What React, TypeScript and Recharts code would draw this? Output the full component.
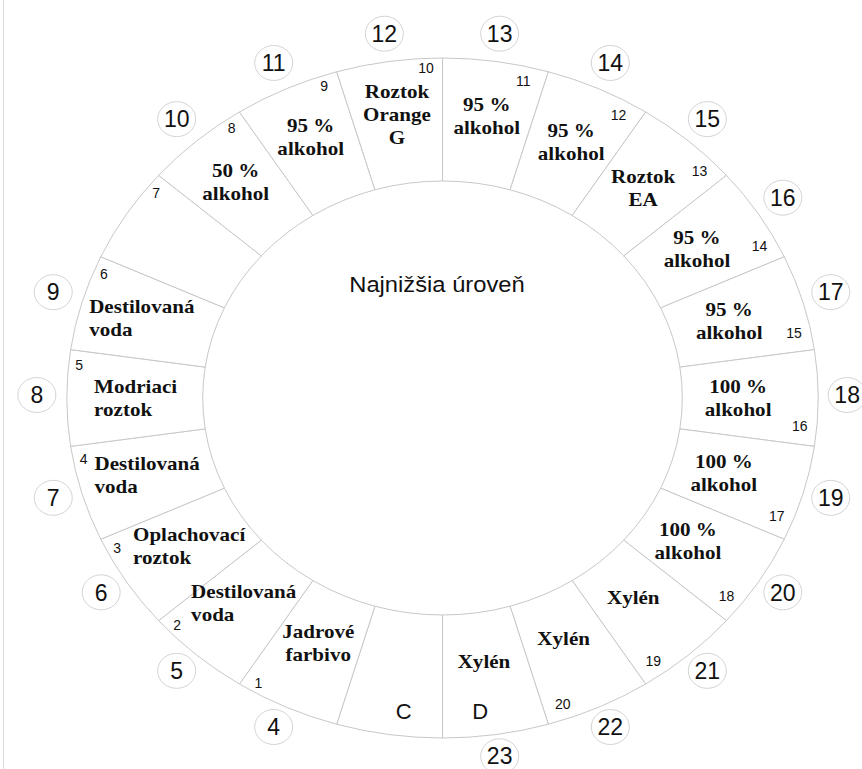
import { Pie, PieChart } from "recharts";

const W = 862;
const H = 769;
const CX = 437;
const CY = 393;
const INNER = 217;
const OUTER = 340;
// the ring in the picture is a little wider than tall
const SX = 1.105;
const RAD = Math.PI / 180;

// 22 equal slots, clockwise from 12 o'clock
const slotSize = [1, 1, 1, 1, 1, 1, 1, 1, 1, 1, 1, 1, 1, 1, 1, 1, 1, 1, 1, 1, 1, 1];
const stepNo = ["11", "12", "13", "14", "15", "16", "17", "18", "19", "20", "", "", "1", "2", "3", "4", "5", "6", "7", "8", "9", "10"];
const reagent = [
  ["95 %", "alkohol"],
  ["95 %", "alkohol"],
  ["Roztok", "EA"],
  ["95 %", "alkohol"],
  ["95 %", "alkohol"],
  ["100 %", "alkohol"],
  ["100 %", "alkohol"],
  ["100 %", "alkohol"],
  ["Xylén"],
  ["Xylén"],
  ["Xylén"],
  [],
  ["Jadrové", "farbivo"],
  ["Destilovaná", "voda"],
  ["Oplachovací", "roztok"],
  ["Destilovaná", "voda"],
  ["Modriaci", "roztok"],
  ["Destilovaná", "voda"],
  [],
  ["50 %", "alkohol"],
  ["95 %", "alkohol"],
  ["Roztok", "Orange", "G"],
];
const station = ["", "", "", "", "", "", "", "", "", "", "D", "C", "", "", "", "", "", "", "", "", "", ""];
const position = ["13", "14", "15", "16", "17", "18", "19", "20", "21", "22", "23", "", "4", "5", "6", "7", "8", "9", "", "10", "11", "12"];

const slots = slotSize.map((v, i) => ({
  value: v,
  step: stepNo[i],
  lines: reagent[i],
  station: station[i],
  pos: position[i],
}));

const pt = (cx: number, cy: number, r: number, deg: number, sx = SX) => ({
  x: cx + Math.cos(-deg * RAD) * r * sx,
  y: cy + Math.sin(-deg * RAD) * r,
});

const serif = "'Liberation Serif', 'Times New Roman', serif";
const sans = "'Liberation Sans', Arial, sans-serif";

function renderSlot(props: any) {
  const { cx, cy, midAngle, endAngle, index } = props;
  const s = slots[index];
  const fs = 18;
  const lh = 23;
  const k = 1.17;

  const c = Math.cos(midAngle * RAD);
  const sn = Math.sin(midAngle * RAD);
  // labels sit a bit higher at the top and a bit further in on the right
  const rLabel = 277 + 9 * sn - 9 * Math.max(c, 0) - 2 * Math.min(c, 0);
  const mid = pt(cx, cy, rLabel, midAngle);
  const leftAligned = c < -0.6 && sn < 0.5;
  const maxLen = Math.max(0, ...s.lines.map((l) => l.length));
  const x0 = leftAligned ? (-maxLen * 0.47 * fs) / 2 : 0;
  const y0 = -((s.lines.length - 1) * lh) / 2 + fs * 0.34;

  const num = c < 0 ? pt(cx, cy, 330, endAngle + 2.5) : pt(cx, cy, 325, endAngle + 3.3);
  const st = pt(cx, cy, 316, midAngle, 0.85);
  const badge = pt(cx, cy - 3, 365, midAngle, 1.11);

  return (
    <g key={`slot-${index}`}>
      {s.lines.length > 0 && (
        <g transform={`translate(${mid.x},${mid.y}) scale(${k},1)`}>
          {s.lines.map((line, j) => (
            <text
              key={j}
              x={x0}
              y={y0 + j * lh}
              textAnchor={leftAligned ? "start" : "middle"}
              fontFamily={serif}
              fontWeight="bold"
              fontSize={fs}
              fill="#111"
            >
              {line}
            </text>
          ))}
        </g>
      )}
      {s.step && (
        <text x={num.x} y={num.y + 5} textAnchor="middle" fontFamily={sans} fontSize={14} fill="#111">
          {s.step}
        </text>
      )}
      {s.station && (
        <text x={st.x} y={st.y + 8} textAnchor="middle" fontFamily={sans} fontSize={22} fill="#111">
          {s.station}
        </text>
      )}
      {s.pos && (
        <g>
          <ellipse cx={badge.x} cy={badge.y} rx={19} ry={17.5} fill="#fff" stroke="#d4d4d4" strokeWidth={1} />
          <text x={badge.x} y={badge.y + 8.2} textAnchor="middle" fontFamily={sans} fontSize={23} fill="#111">
            {s.pos}
          </text>
        </g>
      )}
    </g>
  );
}

export default function App() {
  return (
    <div style={{ position: "absolute", left: 0, top: 0, width: W, height: H, background: "#fff", overflow: "hidden" }}>
      <style>{`
        .ring path.recharts-sector {
          transform: scaleX(${SX});
          transform-origin: ${CX}px ${CY}px;
          vector-effect: non-scaling-stroke;
        }
      `}</style>
      <div style={{ position: "absolute", left: 3, top: 0, width: 0, height: H, borderLeft: "1px solid #dcdcdc" }} />
      <PieChart width={W} height={H} className="ring" style={{ position: "absolute", left: 0, top: 0 }}>
        <Pie
          data={slots}
          dataKey="value"
          cx={CX}
          cy={CY}
          innerRadius={INNER}
          outerRadius={OUTER}
          startAngle={90}
          endAngle={-270}
          fill="#ffffff"
          stroke="#c8c8c8"
          strokeWidth={1}
          label={renderSlot}
          labelLine={false}
          isAnimationActive={false}
        />
        <text
          x={CX}
          y={292}
          textAnchor="middle"
          fontFamily={sans}
          fontSize={22}
          fill="#111"
          transform={`translate(${CX},0) scale(1.08,1) translate(${-CX},0)`}
        >
          Najnižšia úroveň
        </text>
      </PieChart>
    </div>
  );
}
